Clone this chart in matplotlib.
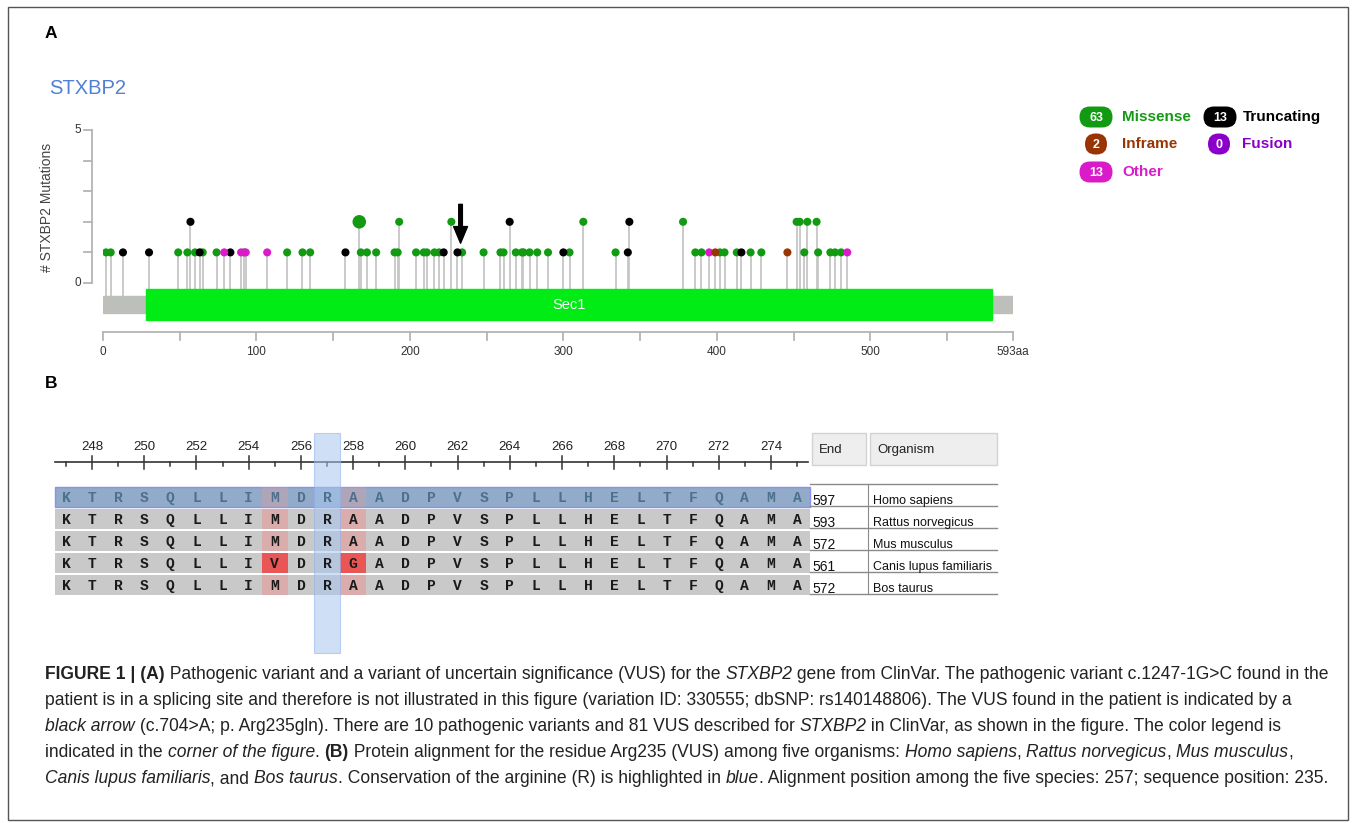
"""
STXBP2 lollipop plot (panel A) + protein alignment around Arg235 (panel B).
"""
import matplotlib
matplotlib.use('Agg')
import matplotlib.pyplot as plt
from matplotlib.patches import Rectangle, FancyBboxPatch
from matplotlib import font_manager

# ---------------- data ----------------
protein_len = 593
domain_name = 'Sec1'
domain_start, domain_end = 28, 579

missense_pos = [2, 5, 49, 55, 60, 65, 74, 92, 120, 130, 135, 168, 172, 178, 190, 192,
                204, 209, 211, 216, 219, 234, 248, 259, 261, 269, 273, 274, 278, 283,
                290, 304, 334, 386, 390, 402, 405, 413, 422, 429, 457, 466, 474, 477, 481,
                167, 193, 227, 313, 378, 452, 454, 459, 465]
missense_cnt = [1] * 45 + [2] * 9
truncating_pos = [13, 30, 63, 83, 158, 222, 231, 300, 342, 416, 57, 265, 343]
truncating_cnt = [1] * 10 + [2] * 3
other_pos = [79, 90, 93, 107, 395, 485]
other_cnt = [1] * 6
inframe_pos = [399, 446]
inframe_cnt = [1, 1]
vus_pos = 233  # black arrow

legend_labels = ['Missense', 'Truncating', 'Inframe', 'Fusion', 'Other']
legend_counts = [63, 13, 2, 0, 13]

align_start = 247
sequences = ['KTRSQLLIMDRAADPVSPLLHELTFQAMA',
             'KTRSQLLIMDRAADPVSPLLHELTFQAMA',
             'KTRSQLLIMDRAADPVSPLLHELTFQAMA',
             'KTRSQLLIVDRGADPVSPLLHELTFQAMA',
             'KTRSQLLIMDRAADPVSPLLHELTFQAMA']
seq_end = [597, 593, 572, 561, 572]
organisms = ['Homo sapiens', 'Rattus norvegicus', 'Mus musculus',
             'Canis lupus familiaris', 'Bos taurus']
conserved_pos = 257

caption = [
    [('FIGURE 1 | (A)', 'b'), (' Pathogenic variant and a variant of uncertain significance (VUS) for the ', 'n'),
     ('STXBP2', 'i'), (' gene from ClinVar. The pathogenic variant c.1247-1G>C found in the', 'n')],
    [('patient is in a splicing site and therefore is not illustrated in this figure (variation ID: 330555; '
      'dbSNP: rs140148806). The VUS found in the patient is indicated by a', 'n')],
    [('black arrow', 'i'), (' (c.704>A; p. Arg235gln). There are 10 pathogenic variants and 81 VUS described for ', 'n'),
     ('STXBP2', 'i'), (' in ClinVar, as shown in the figure. The color legend is', 'n')],
    [('indicated in the ', 'n'), ('corner of the figure', 'i'), ('. ', 'n'), ('(B)', 'b'),
     (' Protein alignment for the residue Arg235 (VUS) among five organisms: ', 'n'),
     ('Homo sapiens', 'i'), (', ', 'n'), ('Rattus norvegicus', 'i'), (', ', 'n'),
     ('Mus musculus', 'i'), (',', 'n')],
    [('Canis lupus familiaris', 'i'), (', and ', 'n'), ('Bos taurus', 'i'),
     ('. Conservation of the arginine (R) is highlighted in ', 'n'), ('blue', 'i'),
     ('. Alignment position among the five species: 257; sequence position: 235.', 'n')],
]

# ---------------- style ----------------
C_MIS, C_TRUNC, C_INF, C_FUS, C_OTH = '#139a13', '#000000', '#993404', '#8b00c9', '#d91bc9'
names = {f.name for f in font_manager.fontManager.ttflist}
NARROW = 'Liberation Sans Narrow' if 'Liberation Sans Narrow' in names else 'Liberation Sans'
SANS = 'Liberation Sans'
MONO = 'Liberation Mono'

W, H = 1357, 823
fig = plt.figure(figsize=(W / 100, H / 100), dpi=100)

# full-figure pixel overlay (frame, labels, legend, caption)
bg = fig.add_axes([0, 0, 1, 1])
bg.set_xlim(0, W)
bg.set_ylim(H, 0)
bg.axis('off')
bg.add_patch(Rectangle((7.5, 6.5), 1340, 813, fill=False, edgecolor='#555555', lw=1))
bg.text(45, 33, 'A', fontsize=12.5, fontweight='bold', family=SANS, va='center')
bg.text(45, 383, 'B', fontsize=12.5, fontweight='bold', family=SANS, va='center')
bg.text(49, 88, 'STXBP2', fontsize=14.5, color='#4f80d6', family=SANS, va='center')

# ---------------- panel A ----------------
px_per_unit = 30.6
axA = fig.add_axes([103 / W, 1 - 345 / H, 910 / W, 225 / H])
axA.set_xlim(0, protein_len)
axA.set_ylim(-62 / px_per_unit, 163 / px_per_unit)
axA.axis('off')
axA.patch.set_alpha(0)

groups = [(missense_pos, missense_cnt, C_MIS), (truncating_pos, truncating_cnt, C_TRUNC),
          (other_pos, other_cnt, C_OTH), (inframe_pos, inframe_cnt, C_INF)]
for pos, cnt, col in groups:
    for p, c in zip(pos, cnt):
        axA.plot([p, p], [-0.45, c], color='#c6c6c6', lw=1.3, zorder=1, solid_capstyle='butt')
for pos, cnt, col in groups:
    sizes = [95 if (col == C_MIS and c == 2 and p == 167) else 34 for p, c in zip(pos, cnt)]
    axA.scatter(pos, cnt, s=sizes, color=col, zorder=3, linewidths=0)

# protein bar + domain
axA.add_patch(Rectangle((0, -0.98), protein_len, 0.555, color='#bcbfba', zorder=2))
axA.add_patch(Rectangle((domain_start, -1.21), domain_end - domain_start, 1.014,
                        color='#00ec14', zorder=2))
axA.text((domain_start + domain_end) / 2, -0.71, domain_name, color='white', fontsize=10.5,
         ha='center', va='center', family=SANS, zorder=4)

# aa ruler
ry = -1.60
axA.plot([0, protein_len], [ry, ry], color='#b4b4b4', lw=1.3, clip_on=False)
for t in list(range(0, protein_len, 50)) + [protein_len]:
    axA.plot([t, t], [ry, ry - 0.26], color='#b4b4b4', lw=1.3, clip_on=False)
for t in range(0, protein_len, 100):
    axA.text(t, ry - 0.65, str(t), fontsize=8.5, ha='center', va='center', color='#333333',
             family=SANS, clip_on=False)
axA.text(protein_len, ry - 0.65, f'{protein_len}aa', fontsize=8.5, ha='center', va='center',
         color='#333333', family=SANS, clip_on=False)

# y axis
yx = -7.2
axA.plot([yx, yx], [0, 5], color='#b4b4b4', lw=1.3, clip_on=False)
for t in range(6):
    axA.plot([yx, yx - 5], [t, t], color='#b4b4b4', lw=1.3, clip_on=False)
for t in (0, 5):
    axA.text(yx - 7, t, str(t), fontsize=8.5, ha='right', va='center', color='#333333',
             family=SANS, clip_on=False)
bg.text(47, 207, '# STXBP2 Mutations', rotation=90, fontsize=10, color='#444444',
        family=SANS, ha='center', va='center')

# VUS arrow
axA.annotate('', xy=(vus_pos, 1.3), xytext=(vus_pos, 2.57),
             arrowprops=dict(facecolor='black', edgecolor='black', width=2.6,
                             headwidth=10, headlength=12), zorder=5)

# legend (pixel coords)
leg_cols = [C_MIS, C_TRUNC, C_INF, C_FUS, C_OTH]
leg_xy = [(1096, 117), (1220, 117), (1096, 144), (1219, 144), (1096, 172)]
for lab, n, col, (cx, cy) in zip(legend_labels, legend_counts, leg_cols, leg_xy):
    w = 33 if n >= 10 else 22
    bg.add_patch(FancyBboxPatch((cx - w / 2, cy - 10.5), w, 21,
                                boxstyle='round,pad=0,rounding_size=10.5',
                                facecolor=col, edgecolor='none'))
    bg.text(cx, cy + 0.5, str(n), color='white', fontsize=9, fontweight='bold',
            ha='center', va='center', family=SANS)
    bg.text(cx + 26 if cx < 1150 else cx + 23, cy, lab, color=col, fontsize=11,
            fontweight='bold', ha='left', va='center', family=NARROW)

# ---------------- panel B ----------------
res_px = 26.115


def bx(px):
    return 248 + (px - 92) / res_px


def by(py):
    return (py - 497) / 22.0


axB = fig.add_axes([40 / W, 1 - 660 / H, 970 / W, 235 / H])
axB.set_xlim(bx(40), bx(1010))
axB.set_ylim(by(660), by(425))
axB.axis('off')
axB.patch.set_alpha(0)

ncol = len(sequences[0])
x0, x1 = bx(55), bx(810)
for r, seq in enumerate(sequences):
    fc = '#91abc9' if r == 0 else '#c9c9c9'
    ec = '#8a90f0' if r == 0 else 'none'
    axB.add_patch(Rectangle((x0, r - 0.455), x1 - x0, 0.91, facecolor=fc, edgecolor=ec,
                            lw=1, zorder=1))
    # red marks on variable columns
    for i, aa in enumerate(seq):
        col_res = [s[i] for s in sequences]
        if len(set(col_res)) > 1:
            strong = aa != sequences[0][i]
            axB.add_patch(Rectangle((align_start + i - 0.5, r - 0.455), 1, 0.91,
                                    facecolor='#ee4848' if strong else '#e89a9a',
                                    alpha=(0.9 if strong else (0.35 if r == 0 else 0.6)),
                                    edgecolor='none', zorder=2))
    for i, aa in enumerate(seq):
        axB.text(align_start + i, r + 0.03, aa, family=MONO, fontweight='bold', fontsize=10.5,
                 color='#4d6f90' if r == 0 else '#1a1a1a', ha='center', va='center', zorder=5)

# conserved column band
axB.add_patch(Rectangle((conserved_pos - 0.5, by(433)), 1, by(653) - by(433),
                        facecolor='#a8c6ee', alpha=0.55, edgecolor='#8fb0ee', lw=0.8, zorder=3))

# ruler
ry = by(462)
axB.plot([x0, bx(808)], [ry, ry], color='#333333', lw=1.2)
for p in range(align_start, align_start + ncol):
    if p % 2 == 0:
        axB.plot([p, p], [by(456), by(469)], color='#333333', lw=1.1)
        axB.text(p, by(447), str(p), fontsize=9.5, family=NARROW, ha='center', va='center',
                 color='#222222')
    else:
        axB.plot([p, p], [ry, by(466)], color='#333333', lw=1.1)

# End / Organism table
for (l, r_), lab in zip([(812, 866), (870, 997)], ['End', 'Organism']):
    axB.add_patch(Rectangle((bx(l), by(433)), bx(r_) - bx(l), by(465) - by(433),
                            facecolor='#eeeeee', edgecolor='#d2d2d2', lw=1))
    axB.text(bx(l + 7), by(450), lab, fontsize=9.5, family=NARROW, ha='left', va='center',
             color='#222222')
for py in [484, 506, 528, 550, 572, 594]:
    axB.plot([bx(810), bx(997)], [by(py), by(py)], color='#8a8a8a', lw=1)
axB.plot([bx(868), bx(868)], [by(484), by(594)], color='#8a8a8a', lw=0.8)
for r, (e, org) in enumerate(zip(seq_end, organisms)):
    axB.text(bx(812), r + 0.18, str(e), fontsize=10, family=NARROW, ha='left',
             va='center', color='#111111')
    axB.text(bx(873), r + 0.18, org, fontsize=9, family=NARROW, ha='left',
             va='center', color='#111111')

# ---------------- caption ----------------
renderer = fig.canvas.get_renderer()
style = {'n': dict(), 'b': dict(fontweight='bold'), 'i': dict(fontstyle='italic')}


def seg_width(s, kind, fs):
    t1 = bg.text(0, 0, '|' + s + '|', fontsize=fs, family=NARROW, **style[kind])
    t2 = bg.text(0, 0, '||', fontsize=fs, family=NARROW, **style[kind])
    w = t1.get_window_extent(renderer).width - t2.get_window_extent(renderer).width
    t1.remove()
    t2.remove()
    return w


fs0 = 12.0
w_line1 = sum(seg_width(s, k, fs0) for s, k in caption[0])
fs = fs0 * 1288 / w_line1
for li, line in enumerate(caption):
    x = 45
    ybase = 679 + 26 * li
    for s, k in line:
        bg.text(x, ybase, s, fontsize=fs, family=NARROW, va='baseline', ha='left',
                color='#222222', **style[k])
        x += seg_width(s, k, fs)

fig.savefig('out.png', dpi=100, facecolor='white')
